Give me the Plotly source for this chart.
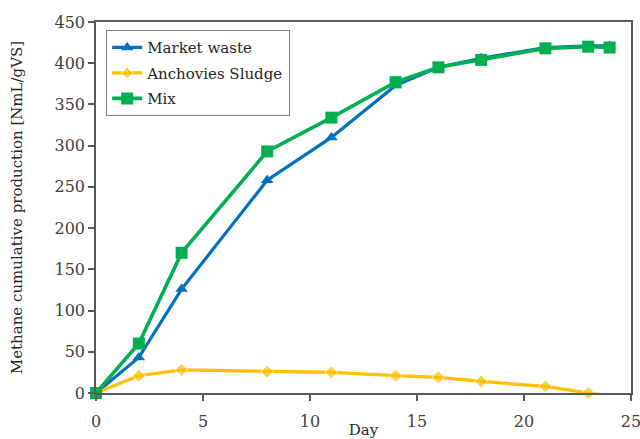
import plotly.graph_objects as go

days = [0, 2, 4, 8, 11, 14, 16, 18, 21, 23, 24]
market_waste = [0, 43, 126, 258, 310, 373, 395, 406, 419, 421, 421]
anchovies_sludge = [0, 21, 28, 26, 25, 21, 19, 14, 8, 0, -3]
mix = [0, 60, 170, 293, 334, 377, 395, 404, 418, 420, 419]

FONT = "DejaVu Serif"

fig = go.Figure()
fig.add_trace(go.Scatter(
    x=days, y=market_waste, name="Market waste", mode="lines+markers",
    legendgroup="a",
    line=dict(color="#0070C0", width=3.2),
    marker=dict(symbol="triangle-up", size=11, color="#0070C0"),
    cliponaxis=False))
anch_sizes = [10 if v >= 0 else 0 for v in anchovies_sludge]
fig.add_trace(go.Scatter(
    x=days, y=anchovies_sludge, name="Anchovies Sludge", mode="lines+markers",
    legendgroup="b",
    line=dict(color="#FFC000", width=3.2),
    marker=dict(symbol="diamond", size=anch_sizes, color="#FFC000"),
    cliponaxis=False))
fig.add_trace(go.Scatter(
    x=days, y=mix, name="Mix", mode="lines+markers",
    legendgroup="c",
    line=dict(color="#00B050", width=3.6),
    marker=dict(symbol="square", size=12, color="#00B050"),
    cliponaxis=False))

axis_common = dict(showline=True, linecolor="#595959", linewidth=1.5, mirror=True,
                   ticks="outside", ticklen=6, tickcolor="#595959", tickwidth=1.5,
                   showgrid=False, zeroline=False, automargin=False,
                   ticklabeloverflow="allow",
                   tickfont=dict(family=FONT, size=16, color="#404040"))

fig.update_layout(
    width=640, height=439,
    margin=dict(l=96, r=9, t=22, b=46),
    plot_bgcolor="white", paper_bgcolor="white",
    font=dict(family=FONT, size=15, color="#262626"),
    xaxis=dict(range=[0, 25], dtick=5, ticklabelstandoff=7,
               title=dict(text="Day", font=dict(family=FONT, size=15, color="#262626"), standoff=2),
               **axis_common),
    yaxis=dict(range=[0, 450], dtick=50,
               title=dict(text="Methane cumulative production [NmL/gVS]",
                          font=dict(family=FONT, size=15, color="#262626"), standoff=28),
               **axis_common),
    legend=dict(x=0.019, y=0.978, xanchor="left", yanchor="top",
                bgcolor="white", bordercolor="#7f7f7f", borderwidth=1,
                font=dict(family=FONT, size=15, color="#262626"),
                traceorder="grouped", tracegroupgap=3, itemwidth=30),
    showlegend=True,
)

fig.write_html("out.html", config={"displayModeBar": False},
               post_script="document.body.style.margin='0';document.body.style.overflow='hidden';")
